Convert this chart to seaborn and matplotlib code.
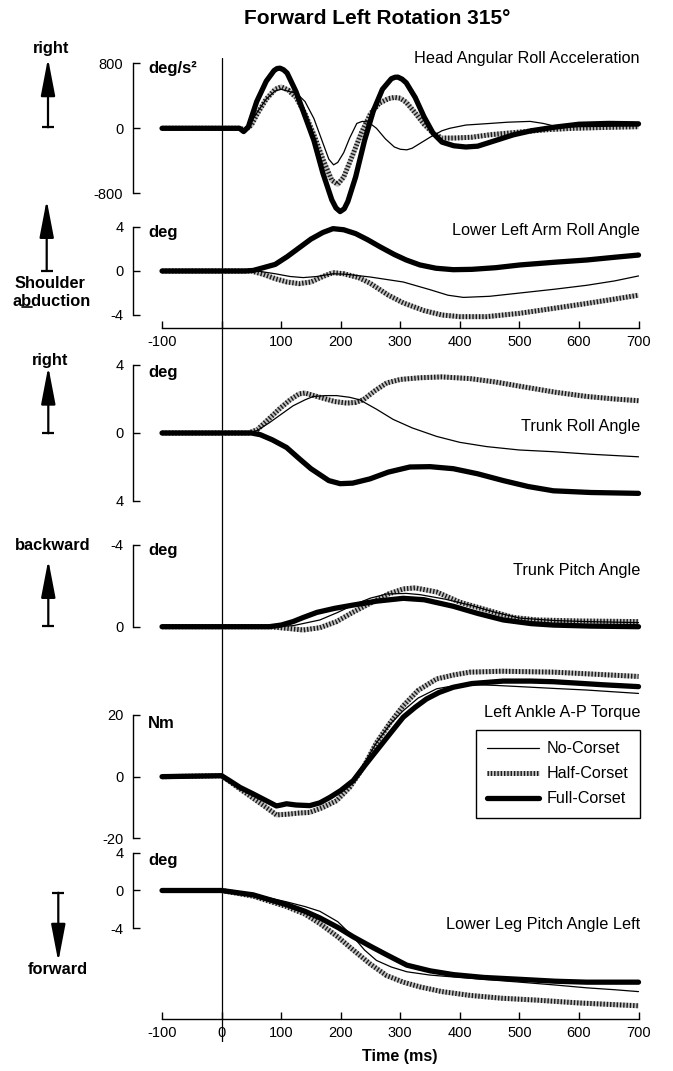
import matplotlib
matplotlib.use("Agg")
import matplotlib.pyplot as plt
import seaborn as sns
from matplotlib.lines import Line2D
from matplotlib.legend_handler import HandlerTuple

# ---- values (time in ms) ----
# Head angular roll acceleration (deg/s^2)
head_no_t = [-100, 30, 40, 50, 60, 75, 90, 100, 110, 126, 140, 155, 170, 180, 188, 195, 205, 215, 227, 236, 244,
             252, 260, 275, 290, 300, 311, 320, 330, 350, 370, 383, 410, 451, 480, 518, 540, 563, 600, 650, 700]
head_no = [0, 0, -10, 80, 200, 360, 460, 480, 460, 430, 330, 120, -180, -380, -450, -420, -300, -120, 60, 85, 80,
           45, 0, -130, -230, -258, -265, -245, -200, -110, -30, 0, 40, 60, 75, 85, 60, 20, 20, 25, 30]
head_half_t = [-100, 30, 40, 50, 60, 75, 90, 100, 112, 125, 140, 155, 170, 185, 195, 205, 220, 235, 250, 265,
               280, 290, 300, 310, 325, 340, 355, 370, 390, 420, 450, 480, 510, 550, 590, 640, 700]
head_half = [0, 0, -20, 40, 180, 360, 480, 510, 470, 380, 180, -80, -380, -640, -690, -600, -330, -50, 180, 310,
             365, 380, 370, 320, 190, 50, -60, -120, -120, -110, -80, -60, -40, -15, 0, 10, 20]
head_full_t = [-100, 30, 37, 45, 59, 75, 88, 93, 98, 104, 110, 125, 140, 155, 170, 185, 192, 199, 206, 212, 225,
               240, 255, 270, 285, 291, 296, 303, 310, 325, 340, 355, 370, 390, 410, 430, 460, 490, 520, 560, 600,
               650, 700]
head_full = [0, 0, -40, 20, 330, 580, 710, 735, 740, 720, 680, 450, 150, -150, -550, -880, -980, -1025, -990, -900,
             -600, -150, 220, 480, 610, 628, 630, 605, 560, 380, 140, -60, -170, -215, -230, -220, -150, -80, -30,
             15, 50, 60, 55]

# Lower left arm roll angle (deg)
arm_no_t = [-100, 60, 90, 115, 137, 160, 187, 210, 250, 305, 350, 380, 406, 450, 501, 560, 613, 660, 700]
arm_no = [0, 0, -0.25, -0.5, -0.6, -0.5, -0.25, -0.3, -0.55, -1.0, -1.7, -2.2, -2.4, -2.3, -2.0, -1.65, -1.3, -0.9, -0.45]
arm_half_t = [-100, 50, 70, 90, 110, 130, 150, 170, 187, 205, 230, 249, 280, 305, 340, 370, 400, 445, 500, 557, 613, 660, 700]
arm_half = [0, 0, -0.3, -0.7, -1.0, -1.15, -1.0, -0.5, -0.15, -0.25, -0.6, -1.1, -2.2, -2.9, -3.6, -4.0, -4.15, -4.15,
            -3.85, -3.4, -2.95, -2.55, -2.2]
arm_full_t = [-100, 40, 53, 70, 90, 110, 130, 150, 170, 187, 205, 225, 245, 266, 290, 310, 333, 360, 389, 420,
              460, 501, 560, 613, 660, 700]
arm_full = [0, 0, 0.05, 0.3, 0.6, 1.3, 2.1, 2.9, 3.5, 3.85, 3.75, 3.4, 2.85, 2.2, 1.5, 1.0, 0.55, 0.25, 0.12, 0.15,
            0.3, 0.55, 0.8, 1.0, 1.25, 1.45]

# Trunk roll angle (deg, right positive)
troll_no_t = [-100, 45, 60, 80, 100, 120, 140, 154, 175, 193, 215, 232, 260, 288, 320, 361, 400, 445, 500, 557, 620, 700]
troll_no = [0, 0, 0.15, 0.6, 1.1, 1.6, 1.95, 2.15, 2.2, 2.2, 2.1, 1.95, 1.4, 0.8, 0.3, -0.2, -0.55, -0.8, -1.0, -1.1,
            -1.25, -1.4]
troll_half_t = [-100, 45, 60, 80, 98, 115, 130, 140, 155, 170, 190, 210, 225, 238, 258, 277, 300, 333, 370, 417,
                460, 501, 560, 613, 660, 700]
troll_half = [0, 0, 0.2, 0.85, 1.45, 1.95, 2.3, 2.35, 2.2, 2.05, 1.85, 1.76, 1.8, 1.96, 2.5, 2.94, 3.15, 3.25, 3.3,
              3.2, 3.0, 2.75, 2.4, 2.15, 2.0, 1.9]
troll_full_t = [-100, 50, 65, 85, 109, 130, 150, 165, 180, 199, 220, 249, 280, 316, 350, 389, 430, 473, 515, 557, 620, 700]
troll_full = [0, 0, -0.1, -0.4, -0.85, -1.5, -2.1, -2.45, -2.8, -2.98, -2.95, -2.7, -2.3, -2.0, -1.98, -2.1, -2.4,
              -2.8, -3.15, -3.4, -3.5, -3.55]

# Trunk pitch angle (deg, backward negative)
tpitch_no_t = [-100, 80, 120, 165, 195, 221, 250, 277, 310, 333, 375, 417, 460, 501, 560, 613, 700]
tpitch_no = [0, 0, -0.05, -0.33, -0.7, -1.06, -1.4, -1.6, -1.63, -1.57, -1.35, -1.06, -0.7, -0.42, -0.3, -0.25, -0.2]
tpitch_half_t = [-100, 80, 110, 137, 165, 193, 220, 249, 280, 305, 325, 361, 400, 445, 490, 529, 600, 700]
tpitch_half = [0, 0, 0.08, 0.16, 0.05, -0.25, -0.7, -1.14, -1.6, -1.85, -1.9, -1.7, -1.2, -0.82, -0.45, -0.33, -0.28, -0.25]
tpitch_full_t = [-100, 80, 100, 120, 137, 160, 190, 221, 260, 305, 340, 389, 430, 473, 520, 557, 620, 700]
tpitch_full = [0, 0, -0.08, -0.25, -0.45, -0.7, -0.9, -1.06, -1.25, -1.39, -1.32, -1.0, -0.65, -0.33, -0.15, -0.08, -0.03, 0]

# Left ankle A-P torque (Nm)
torque_no_t = [-100, 0, 31, 53, 75, 92, 109, 148, 182, 200, 221, 240, 260, 283, 305, 330, 361, 390, 417, 460, 501,
               560, 613, 660, 700]
torque_no = [0, 0.3, -3.5, -6, -8.3, -9.8, -9.2, -9.4, -6.5, -4.5, -1.0, 4.5, 11, 17, 21.4, 25.5, 28.5, 29.5, 29.9,
             29.6, 29.2, 28.6, 28.1, 27.5, 27.0]
torque_half_t = [-100, 0, 31, 53, 75, 92, 110, 130, 148, 170, 193, 215, 238, 260, 283, 305, 330, 361, 390, 417, 470,
                 557, 620, 700]
torque_half = [0, 0.3, -4, -7, -10, -12.4, -12.2, -11.8, -11.6, -10, -7.8, -3.5, 3, 11, 17.5, 23, 28, 31.7, 33, 33.9,
               34.2, 33.9, 33.3, 32.5]
torque_full_t = [-100, 0, 15, 31, 53, 75, 92, 100, 109, 125, 148, 165, 182, 200, 221, 240, 260, 283, 305, 325, 344,
                 365, 389, 420, 473, 520, 557, 600, 641, 700]
torque_full = [0, 0.3, -1.5, -3.5, -5.6, -7.8, -9.5, -9.2, -8.8, -9.2, -9.4, -8.5, -6.7, -4.5, -1.3, 3.5, 8.4, 14,
               19.3, 22.5, 25.2, 27.3, 29, 30.2, 31, 31, 30.8, 30.3, 29.8, 29.2]

# Lower leg pitch angle left (deg)
leg_no_t = [-100, 0, 53, 109, 140, 165, 195, 221, 240, 260, 285, 311, 350, 389, 440, 501, 560, 613, 660, 700]
leg_no = [0, 0, -0.4, -1.2, -1.7, -2.2, -3.3, -4.9, -6.3, -7.4, -8.1, -8.6, -8.95, -9.15, -9.4, -9.7, -10.0, -10.3,
          -10.5, -10.7]
leg_half_t = [-100, 0, 53, 109, 140, 165, 195, 221, 250, 277, 305, 333, 370, 417, 470, 529, 600, 700]
leg_half = [0, 0, -0.6, -1.7, -2.5, -3.5, -4.9, -6.3, -7.8, -9.0, -9.7, -10.2, -10.7, -11.1, -11.4, -11.6, -11.9, -12.2]
leg_full_t = [-100, 0, 53, 109, 140, 165, 195, 221, 250, 277, 311, 350, 389, 440, 501, 560, 613, 700]
leg_full = [0, 0, -0.46, -1.5, -2.2, -2.9, -3.9, -4.9, -5.9, -6.8, -7.9, -8.5, -8.9, -9.2, -9.4, -9.6, -9.7, -9.7]

x_ticks = [-100, 0, 100, 200, 300, 400, 500, 600, 700]

# ---- layout (pixels of a 673x1071 canvas) ----
W, H = 673, 1071
T0_PX, PX_PER_MS = 221.6, 0.5956
AX_L, AX_R = 133, 639
XLIM = ((AX_L - T0_PX) / PX_PER_MS, (AX_R - T0_PX) / PX_PER_MS)

sns.set_style("ticks")
plt.rcParams["font.family"] = ["Liberation Sans", "DejaVu Sans"]
plt.rcParams.update({"axes.linewidth": 1.0, "axes.edgecolor": "black", "text.color": "black",
                     "axes.labelcolor": "black", "xtick.color": "black", "ytick.color": "black"})

fig = plt.figure(figsize=(W / 100, H / 100), dpi=100)


def fx(x):
    return x / W


def fy(y):
    return 1 - y / H


# overlay in pixel coordinates for arrows / side labels
ov = fig.add_axes([0, 0, 1, 1])
ov.set_xlim(0, W)
ov.set_ylim(H, 0)
ov.axis("off")

# vertical line at t = 0 across all panels
vax = fig.add_axes([fx(AX_L), fy(1042), (AX_R - AX_L) / W, (1042 - 58) / H])
vax.set_xlim(XLIM)
vax.axis("off")
vax.axvline(0, color="k", lw=0.9)

THIN = dict(color="k", linewidth=0.9)
FULL = dict(color="k", linewidth=3.8, solid_capstyle="round", solid_joinstyle="round")
HALF_BG = dict(color="0.75", linewidth=3.6, solid_capstyle="butt")
HALF_FG = dict(color="0.1", linewidth=3.6, linestyle=(0, (0.28, 0.38)), dash_capstyle="butt")


def panel(top, bottom, v1, y1, v2, y2, series, ticks, ticklabels=None, xaxis=False, xlabels=None):
    ax = fig.add_axes([fx(AX_L), fy(bottom), (AX_R - AX_L) / W, (bottom - top) / H])
    s = (v1 - v2) / (y2 - y1)
    ax.set_ylim(v2 - (bottom - y2) * s, v1 + (y1 - top) * s)
    ax.set_xlim(XLIM)
    ax.patch.set_alpha(0)
    (nt, nv), (ht, hv), (ft, fv) = series
    sns.lineplot(x=ht, y=hv, ax=ax, clip_on=False, **HALF_BG)
    sns.lineplot(x=ht, y=hv, ax=ax, clip_on=False, **HALF_FG)
    sns.lineplot(x=ft, y=fv, ax=ax, clip_on=False, **FULL)
    sns.lineplot(x=nt, y=nv, ax=ax, clip_on=False, **THIN)
    for sp in ["top", "right"]:
        ax.spines[sp].set_visible(False)
    ax.spines["left"].set_bounds(min(v1, v2), max(v1, v2))
    ax.set_yticks(ticks)
    ax.set_yticklabels(ticklabels if ticklabels else [str(t) for t in ticks])
    ax.tick_params(axis="y", direction="in", length=5, width=1, pad=7, labelsize=10.5)
    if xaxis:
        ax.spines["bottom"].set_bounds(x_ticks[0], x_ticks[-1])
        ax.set_xticks(x_ticks)
        ax.set_xticklabels(xlabels)
        ax.tick_params(axis="x", direction="in", length=5, width=1, pad=5, labelsize=10.5)
    else:
        ax.spines["bottom"].set_visible(False)
        ax.set_xticks([])
    ax.set_xlabel("")
    ax.set_ylabel("")
    return ax


ax1 = panel(55, 215, 800, 63.3, -800, 193.3,
            [(head_no_t, head_no), (head_half_t, head_half), (head_full_t, head_full)], [-800, 0, 800])
ax2 = panel(220, 328, 4, 227, -4, 315,
            [(arm_no_t, arm_no), (arm_half_t, arm_half), (arm_full_t, arm_full)], [-4, 0, 4],
            xaxis=True, xlabels=[str(t) if t != 0 else "" for t in x_ticks])
ax3 = panel(355, 510, 4, 365, -4, 501,
            [(troll_no_t, troll_no), (troll_half_t, troll_half), (troll_full_t, troll_full)], [-4, 0, 4],
            ticklabels=["4", "0", "4"])
ax4 = panel(540, 640, -4, 545, 0, 626.7,
            [(tpitch_no_t, tpitch_no), (tpitch_half_t, tpitch_half), (tpitch_full_t, tpitch_full)], [-4, 0])
ax5 = panel(660, 845, 20, 715, -20, 838.3,
            [(torque_no_t, torque_no), (torque_half_t, torque_half), (torque_full_t, torque_full)], [-20, 0, 20])
ax6 = panel(845, 1019, 4, 852.7, -4, 928.3,
            [(leg_no_t, leg_no), (leg_half_t, leg_half), (leg_full_t, leg_full)], [-4, 0, 4],
            xaxis=True, xlabels=[str(t) for t in x_ticks])

# panel titles and units
titles = [("Head Angular Roll Acceleration", 59), ("Lower Left Arm Roll Angle", 231),
          ("Trunk Roll Angle", 427), ("Trunk Pitch Angle", 571),
          ("Left Ankle A-P Torque", 712), ("Lower Leg Pitch Angle Left", 924)]
for txt, y in titles:
    fig.text(fx(640), fy(y), txt, ha="right", va="center", fontsize=11.7)
units = [("deg/s\u00b2", 68), ("deg", 233), ("deg", 373), ("deg", 550), ("Nm", 723), ("deg", 861)]
for txt, y in units:
    fig.text(fx(148), fy(y), txt, ha="left", va="center", fontsize=12, fontweight="bold")

fig.text(fx(377), fy(18), "Forward Left Rotation 315\u00b0", ha="center", va="center",
         fontsize=15, fontweight="bold")
fig.text(fx(400), fy(1057), "Time (ms)", ha="center", va="center", fontsize=11.6, fontweight="bold")

# direction arrows on the left
arrows = [(48, 58.3, 127.3), (46.7, 200, 271), (48.3, 366.7, 433.3), (48.3, 560, 626), (58.3, 961.7, 892.7)]
for x, tip, tail in arrows:
    ov.annotate("", xy=(x, tip), xytext=(x, tail),
                arrowprops=dict(arrowstyle="-|>,head_length=2.3,head_width=0.44", mutation_scale=10,
                                lw=1.6, color="k", shrinkA=0, shrinkB=0))
    ov.plot([x - 6, x + 6], [tail, tail], color="k", lw=1.6, solid_capstyle="butt")

side = dict(ha="center", va="center", fontsize=11.8, fontweight="bold")
fig.text(fx(50.7), fy(49), "right", **side)
fig.text(fx(50), fy(284), "Shoulder", **side)
abd = fig.text(fx(51.5), fy(301), "abduction", **side)
fig.text(fx(50), fy(361), "right", **side)
fig.text(fx(52.5), fy(545), "backward", **side)
fig.text(fx(57.8), fy(970), "forward", **side)

# underline the "b" of abduction
fig.canvas.draw()
r = fig.canvas.get_renderer()
bb = abd.get_window_extent(r)
tmp = fig.text(0, 0, "a", fontsize=11.8, fontweight="bold")
wa = tmp.get_window_extent(r).width
tmp.set_text("ab")
wab = tmp.get_window_extent(r).width
tmp.remove()
uy = (bb.y0 + 1.5) / H
fig.add_artist(Line2D([(bb.x0 + wa) / W, (bb.x0 + wab) / W], [uy, uy], transform=fig.transFigure,
                      color="k", lw=1.2))

# legend
h_no = Line2D([], [], **THIN)
h_half = (Line2D([], [], **HALF_BG), Line2D([], [], **HALF_FG))
h_full = Line2D([], [], color="k", linewidth=3.8)
leg = ax5.legend([h_no, h_half, h_full], ["No-Corset", "Half-Corset", "Full-Corset"],
                 handler_map={tuple: HandlerTuple(ndivide=1)},
                 loc="upper right", bbox_to_anchor=(fx(640), fy(730)), bbox_transform=fig.transFigure,
                 borderaxespad=0, frameon=True, fancybox=False, edgecolor="k", framealpha=1,
                 fontsize=11.6, handlelength=3.2, handletextpad=0.5, labelspacing=0.62, borderpad=0.7)
leg.get_frame().set_linewidth(1.0)

fig.savefig("out.png", dpi=100)
